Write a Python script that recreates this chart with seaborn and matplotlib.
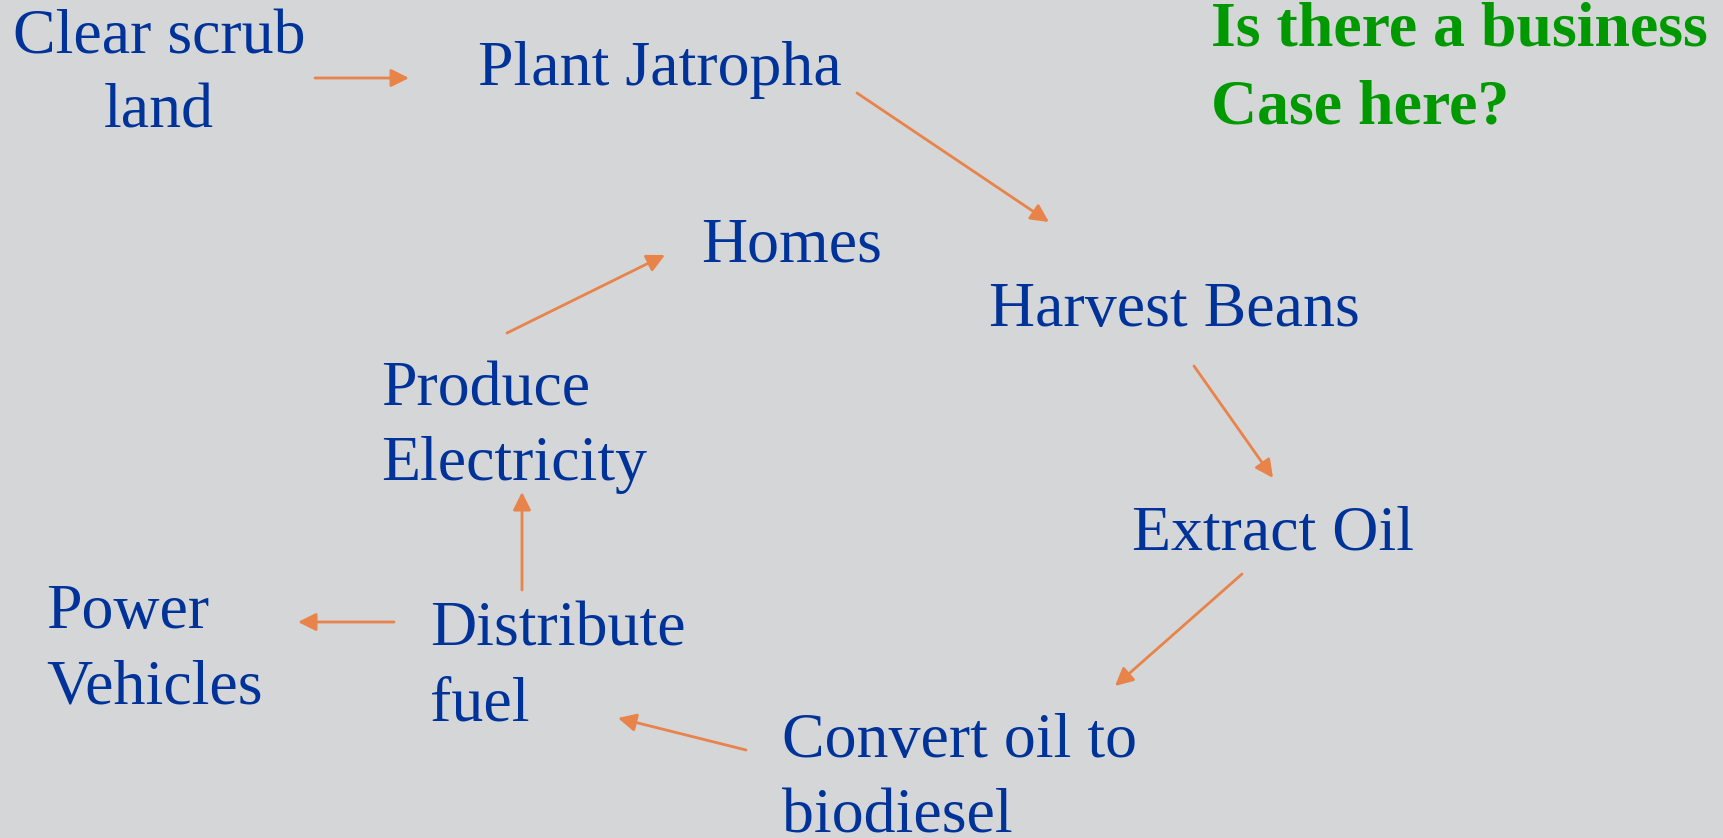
import matplotlib
matplotlib.use("Agg")
import matplotlib.pyplot as plt
import seaborn as sns

# ---- content ----
steps = ["Clear scrub\nland", "Plant Jatropha", "Harvest Beans", "Extract Oil",
         "Convert oil to\nbiodiesel", "Distribute\nfuel", "Power\nVehicles",
         "Produce\nElectricity", "Homes"]
edges = [(0, 1), (1, 2), (2, 3), (3, 4), (4, 5), (5, 6), (5, 7), (7, 8)]
question = "Is there a business\nCase here?"

# ---- layout (pixel space of the slide) ----
W, H = 1723, 838
node_anchor = [(159, 53, "center"), (478, 85, "left"), (989, 326, "left"),
               (1132, 549, "left"), (782, 757, "left"), (430, 645, "left"),
               (46, 628, "left"), (381, 405, "left"), (701, 261, "left")]
arrow_path = [((315, 78), (409, 78)), ((857, 93), (1049, 222)),
              ((1194, 366), (1273, 478)), ((1242, 574), (1115, 686)),
              ((746, 750), (618, 718)), ((394, 622), (298, 622)),
              ((522, 590), (522, 492)), ((507, 333), (665, 255))]
line_gap = 75

BG = "#D5D6D8"
BLUE = "#003399"
GREEN = "#009900"
ORANGE = "#E8834A"

sns.set_theme(style="white")
plt.rcParams["font.family"] = ["Liberation Serif", "DejaVu Serif"]

fig = plt.figure(figsize=(W / 100, H / 100), dpi=100, facecolor=BG)
ax = fig.add_axes([0, 0, 1, 1])
ax.set_facecolor(BG)
ax.set_xlim(0, W)
ax.set_ylim(H, 0)
ax.axis("off")

for label, (x, y, ha) in zip(steps, node_anchor):
    for i, line in enumerate(label.split("\n")):
        ax.text(x, y + i * line_gap, line, ha=ha, va="baseline",
                fontsize=46, color=BLUE)

for i, line in enumerate(question.split("\n")):
    ax.text(1211, 46 + i * 77, line, ha="left", va="baseline",
            fontsize=46, color=GREEN, fontweight="bold")

for (a, b), (p0, p1) in zip(edges, arrow_path):
    ax.annotate("", xy=p1, xytext=p0,
                arrowprops=dict(arrowstyle="-|>", color=ORANGE, lw=2,
                                mutation_scale=27, shrinkA=0, shrinkB=0))

fig.savefig("out.png", dpi=100, facecolor=BG)
